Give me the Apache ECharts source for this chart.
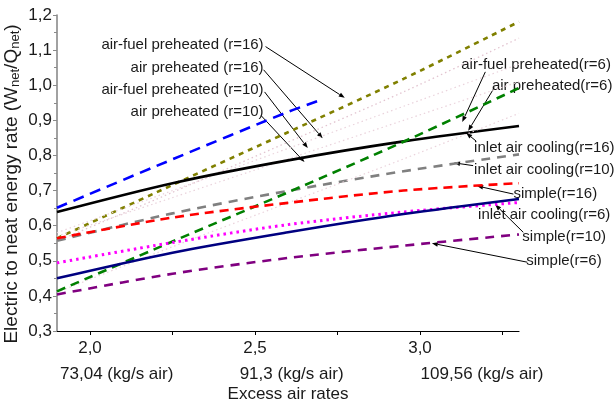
<!DOCTYPE html>
<html><head><meta charset="utf-8">
<script src="https://cdn.jsdelivr.net/npm/echarts@6/dist/echarts.min.js"></script>
<style>html,body{margin:0;padding:0;background:#fff}#c{width:615px;height:408px}</style>
</head><body><div id="c"></div>
<script>
// ---- data ----
const xValues = [1.9, 2.25, 2.6, 2.95, 3.3];
const blueX = [1.9, 2.25, 2.6, 2.7];
const blueValues = [0.651, 0.789, 0.924, 0.958];
const airFuelPreheated16 = [0.564, 0.716, 0.866, 1.018, 1.181];
const airPreheated16 = [0.556, 0.695, 0.838, 0.981, 1.134];
const airFuelPreheated10 = [0.58, 0.70, 0.82, 0.94, 1.06];
const airPreheated10 = [0.57, 0.68, 0.79, 0.90, 1.01];
const inletAirCooling16 = [0.639, 0.721, 0.786, 0.840, 0.884];
const inletAirCooling10 = [0.557, 0.635, 0.699, 0.755, 0.803];
const airFuelPreheated6 = [0.413, 0.555, 0.695, 0.839, 0.992];
const airPreheated6 = [0.41, 0.54, 0.665, 0.79, 0.92];
const simple16 = [0.564, 0.623, 0.665, 0.700, 0.721];
const simple10 = [0.494, 0.552, 0.603, 0.639, 0.666];
const inletAirCooling6 = [0.450, 0.523, 0.581, 0.633, 0.676];
const simple6 = [0.404, 0.463, 0.508, 0.543, 0.575];
const xTickValues = [2.0, 2.5, 3.0];
const xMinorTickValues = [2.25, 2.75, 3.25];
const massFlowLabels = ['73,04 (kg/s air)', '91,3 (kg/s air)', '109,56 (kg/s air)'];

// ---- annotation layout (data coordinates) ----
const massFlowAt = [2.081, 2.611, 3.188];
const annotations = [
  {text:'air-fuel preheated (r=16)', at:[2.526,1.116], align:'right', from:[2.532,1.110], to:[2.772,0.964]},
  {text:'air preheated (r=16)', at:[2.526,1.050], align:'right', from:[2.526,1.044], to:[2.705,0.849]},
  {text:'air-fuel preheated (r=10)', at:[2.526,0.987], align:'right', from:[2.529,0.981], to:[2.660,0.821]},
  {text:'air preheated (r=10)', at:[2.526,0.924], align:'right', from:[2.519,0.913], to:[2.650,0.781]},
  {text:'air-fuel preheated(r=6)', at:[3.125,1.059], align:'left', from:[3.198,1.038], to:[3.128,0.895]},
  {text:'air preheated(r=6)', at:[3.218,0.997], align:'left', from:[3.225,0.993], to:[3.146,0.870]},
  {text:'inlet air cooling(r=16)', at:[3.164,0.8206], align:'left', from:[3.170,0.841], to:[3.140,0.864]},
  {text:'inlet air cooling(r=10)', at:[3.164,0.758], align:'left', from:[3.161,0.771], to:[3.103,0.779]},
  {text:'simple(r=16)', at:[3.283,0.692], align:'left', from:[3.283,0.690], to:[3.173,0.713]},
  {text:'inlet air cooling(r=6)', at:[3.176,0.630], align:'left'},
  {text:'simple(r=10)', at:[3.310,0.567], align:'left', from:[3.313,0.581], to:[3.228,0.660]},
  {text:'simple(r=6)', at:[3.322,0.501], align:'left', from:[3.325,0.496], to:[3.036,0.550]}
];

const fmt = v => (Math.round(v*10)/10).toFixed(1).replace('.', ',');
const pair = (xs, ys) => xs.map((x, i) => [x, ys[i]]);
const FONT = '"Liberation Sans", Arial, sans-serif';

function line(name, ys, color, type, width, xs) {
  return {
    name, type: 'line', data: pair(xs || xValues, ys), smooth: 0.3,
    showSymbol: false, symbol: 'none', silent: true, animation: false,
    lineStyle: {color, type, width, cap: 'butt'}
  };
}

const chart = echarts.init(document.getElementById('c'), null, {renderer: 'canvas'});
chart.setOption({
  animation: false,
  backgroundColor: '#fff',
  grid: {left: 57, right: 96, top: 15, bottom: 77},
  xAxis: [{
    type: 'value', min: 1.9, max: 3.3,
    axisLine: {lineStyle: {color: '#000', width: 1.2}},
    axisTick: {show: true, inside: false, length: 4, customValues: xTickValues.concat(xMinorTickValues), lineStyle: {color: '#000'}},
    axisLabel: {customValues: xTickValues, formatter: fmt, fontFamily: FONT, fontSize: 17, color: '#1a1a1a', margin: 9},
    splitLine: {show: false},
    name: 'Excess air rates', nameLocation: 'middle', nameGap: 55,
    nameTextStyle: {fontFamily: FONT, fontSize: 17, color: '#1a1a1a'}
  }],
  yAxis: [{
    type: 'value', min: 0.3, max: 1.2, interval: 0.1,
    axisLine: {show: true, lineStyle: {color: '#8a8a8a', width: 1.6}},
    axisTick: {show: true, inside: false, length: 4, lineStyle: {color: '#8a8a8a'}},
    minorTick: {show: true, splitNumber: 2, length: 3, lineStyle: {color: '#8a8a8a'}},
    axisLabel: {formatter: fmt, fontFamily: FONT, fontSize: 17, color: '#1a1a1a', margin: 5},
    splitLine: {show: false}
  }],
  series: [
    line('air-fuel preheated (r=16)', airFuelPreheated16, '#808000', [5, 5], 2.6),
    line('air preheated (r=16)', airPreheated16, '#e2c4d0', [1.5, 3], 1.3),
    line('air-fuel preheated (r=10)', airFuelPreheated10, '#ead3dc', [1.5, 3], 1.2),
    line('air preheated (r=10)', airPreheated10, '#ead3dc', [1.5, 3], 1.2),
    line('blue', blueValues, '#0000ff', [11, 7], 2.6, blueX),
    line('inlet air cooling(r=16)', inletAirCooling16, '#000000', 'solid', 2.6),
    line('inlet air cooling(r=10)', inletAirCooling10, '#808080', [9, 7], 2.6),
    line('air preheated(r=6)', airPreheated6, '#ead3dc', [1.5, 3], 1.2),
    line('air-fuel preheated(r=6)', airFuelPreheated6, '#008000', [9, 6], 2.6),
    line('simple(r=16)', simple16, '#ff0000', [9, 6], 2.6),
    line('simple(r=10)', simple10, '#ff00ff', [2.5, 4], 3),
    line('inlet air cooling(r=6)', inletAirCooling6, '#000080', 'solid', 2.6),
    line('simple(r=6)', simple6, '#800080', [9, 7], 2.6)
  ]
});

function px(v) { return chart.convertToPixel({gridIndex: 0}, v); }

const graphics = [];
annotations.forEach(a => {
  const p = px(a.at);
  graphics.push({type: 'text', silent: true, x: p[0], y: p[1],
    style: {text: a.text, fill: '#1a1a1a', font: '15px ' + FONT, align: a.align, verticalAlign: 'middle'}});
  if (a.from && a.to) {
    const s = px(a.from), e = px(a.to);
    const ang = Math.atan2(e[1] - s[1], e[0] - s[0]);
    const L = 6, W = 2.3;
    const bx = e[0] - L * Math.cos(ang), by = e[1] - L * Math.sin(ang);
    graphics.push({type: 'line', silent: true, shape: {x1: s[0], y1: s[1], x2: bx, y2: by},
      style: {stroke: '#000', lineWidth: 1}});
    graphics.push({type: 'polygon', silent: true, shape: {points: [
      [e[0], e[1]],
      [bx + W * Math.sin(ang), by - W * Math.cos(ang)],
      [bx - W * Math.sin(ang), by + W * Math.cos(ang)]
    ]}, style: {fill: '#000'}});
  }
});
const axisY = px([2, 0.3])[1];
massFlowLabels.forEach((t, i) => {
  const p = px([massFlowAt[i], 0.3]);
  graphics.push({type: 'text', silent: true, x: p[0], y: axisY + 43,
    style: {text: t, fill: '#1a1a1a', font: '17px ' + FONT, align: 'center', verticalAlign: 'middle'}});
});
graphics.push({type: 'text', silent: true, x: 12, y: 184, rotation: Math.PI / 2,
  style: {
    text: '{a|Electric to neat energy rate (W}{s|net}{a|/Q}{s|net}{a|)}',
    align: 'center', verticalAlign: 'middle',
    rich: {
      a: {fontFamily: FONT, fontSize: 19, fill: '#1a1a1a', color: '#1a1a1a'},
      s: {fontFamily: FONT, fontSize: 13, fill: '#1a1a1a', color: '#1a1a1a', verticalAlign: 'bottom', padding: [6, 0, 0, 0]}
    }
  }});
chart.setOption({graphic: graphics});
</script>
</body></html>
